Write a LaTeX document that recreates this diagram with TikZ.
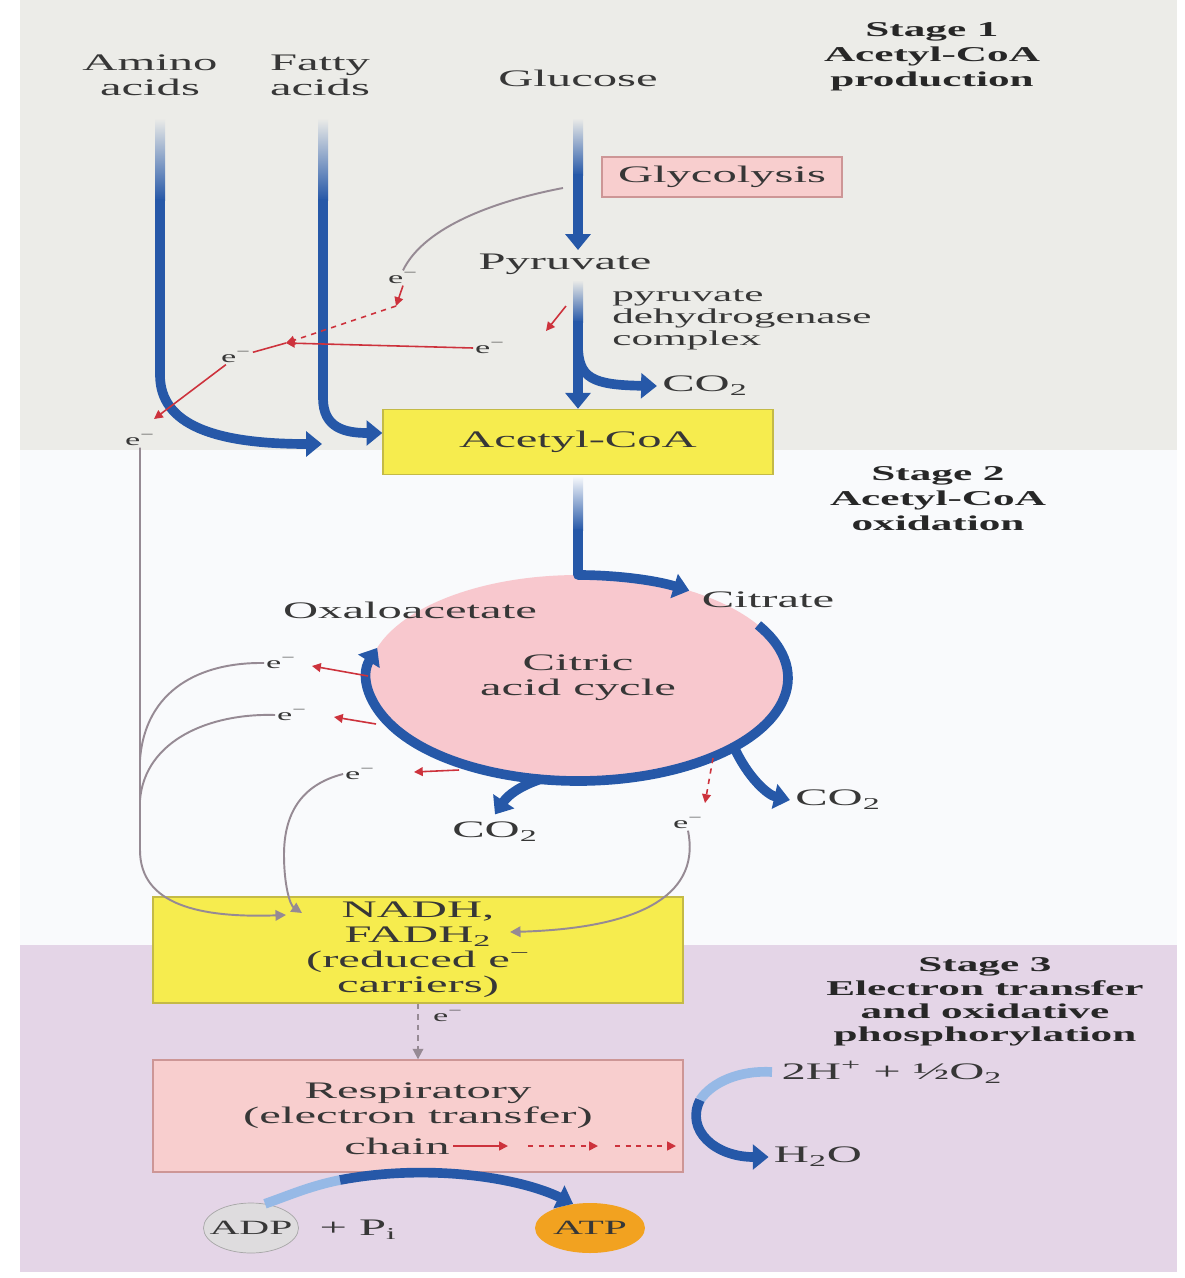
\documentclass[tikz,border=0pt]{standalone}
\usepackage{fontspec}
\setmainfont{Liberation Serif}[FakeStretch=2.05]
\usetikzlibrary{arrows.meta,calc,shapes.geometric}
\definecolor{bgtop}{RGB}{236,236,232}
\definecolor{bgmid}{RGB}{249,250,252}
\definecolor{bgbot}{RGB}{228,213,231}
\definecolor{bluec}{RGB}{38,88,168}
\definecolor{bluel}{RGB}{150,185,230}
\definecolor{redc}{RGB}{205,50,60}
\definecolor{grayl}{RGB}{150,138,148}
\definecolor{yel}{RGB}{246,236,78}
\definecolor{yeld}{RGB}{196,186,70}
\definecolor{pinkbox}{RGB}{248,206,206}
\definecolor{pinkd}{RGB}{205,150,150}
\definecolor{cyc}{RGB}{248,200,206}
\definecolor{txt}{RGB}{55,55,55}
\definecolor{orng}{RGB}{242,162,32}
\definecolor{adpc}{RGB}{222,220,222}
\newcommand\fRg{\fontsize{13.5}{14.2}\selectfont}
\newcommand\fSm{\fontsize{12}{12.5}\selectfont}
\newcommand\fSt{\fontsize{12}{14.2}\selectfont\bfseries}
\newcommand\fEl{\fontsize{9.5}{10}\selectfont}
\newcommand\elec{e\textsuperscript{−}}
\begin{document}
\begin{tikzpicture}[x=0.02cm,y=-0.02cm,
  lab/.style={font=\fRg, text=txt, align=center, inner sep=0pt},
  stage/.style={font=\fSt, text=txt!70!black, align=center, inner sep=0pt},
  el/.style={font=\fEl, text=txt, inner sep=1pt},
  bluearrow/.style={draw=bluec, line width=5.5pt, line join=round, -{Triangle[length=9pt,width=14pt]}},
  blueline/.style={draw=bluec, line width=5.5pt, line join=round},
  redarrow/.style={draw=redc, line width=0.9pt, -{Triangle[length=5pt,width=5pt]}},
  redline/.style={draw=redc, line width=0.9pt},
  grayarrow/.style={draw=grayl, line width=1.1pt, -{Triangle[length=6pt,width=6pt]}},
  grayline/.style={draw=grayl, line width=1.1pt},
  ybox/.style={draw=yeld, fill=yel, line width=0.8pt, font=\fRg, text=txt, align=center, inner sep=0pt},
  pbox/.style={draw=pinkd, fill=pinkbox, line width=0.8pt, font=\fRg, text=txt, align=center, inner sep=0pt}]
\useasboundingbox (0,0) rectangle (1184,1278);
\fill[white] (0,0) rectangle (1184,1278);
\fill[bgtop] (20,0) rectangle (1177,450);
\fill[bgmid] (20,450) rectangle (1177,945);
\fill[bgbot] (20,945) rectangle (1177,1272);

% ---------- boxes drawn first so that arrows show over them ----------
\node[ybox, minimum width=7.8cm, minimum height=1.3cm] (acoa) at (578,442) {Acetyl-CoA};
\node[ybox, minimum width=10.6cm, minimum height=2.12cm] (nadh) at (418,950) {NADH,\\FADH\textsubscript{2}\\(reduced \elec\\carriers)};
\node[pbox, minimum width=10.6cm, minimum height=2.24cm] (resp) at (418,1116) {};

% ---------- Stage 1 ----------
\node[lab] (amino) at (150,75) {Amino\\acids};
\node[lab] (fatty) at (320,75) {Fatty\\acids};
\node[lab] (glucose) at (578,78) {Glucose};
\node[stage] (st1) at (932,57) {Stage 1\\Acetyl-CoA\\production};
\node[pbox, minimum width=4.8cm, minimum height=0.8cm] (glyco) at (722,177) {Glycolysis};
\node[lab] (pyr) at (565,264) {Pyruvate};
\node[font=\fSm, text=txt, align=left, inner sep=0pt, anchor=west] (pdh) at (612,320) {pyruvate\\dehydrogenase\\complex};
\node[lab] (co2a) at (705,386) {CO\textsubscript{2}};

\shade[top color=bgtop, bottom color=bluec] (155,118) rectangle (165,200);
\draw[bluearrow] (160,199) -- (160,375) .. controls (160,425) and (215,444) .. (322,444);
\shade[top color=bgtop, bottom color=bluec] (318,118) rectangle (328,200);
\draw[bluearrow] (323,199) -- (323,398) .. controls (323,428) and (345,433) .. ([yshift=0.18cm]acoa.west);
\shade[top color=bgtop, bottom color=bluec] (573,118) rectangle (583,175);
\draw[bluearrow] (578,174) -- (578,250);
\shade[top color=bgtop, bottom color=bluec] (573,280) rectangle (583,322);
\draw[bluearrow] (578,321) -- (acoa.north);
\draw[bluearrow] (578,345) .. controls (578,378) and (592,385) .. ([xshift=-0.1cm]co2a.west);

\node[el] (e1) at (403,278) {\elec};
\node[el] (e2) at (490,348) {\elec};
\node[el] (e3) at (236,357) {\elec};
\node[el] (e4) at (140,440) {\elec};
\coordinate (j1) at (286,343);
\draw[grayline] (563,188) .. controls (500,200) and (425,225) .. (e1.north);
\draw[redarrow] (e1.south) -- (396,306);
\draw[redarrow, dashed] (396,306) -- (j1);
\draw[redarrow] (566,306) -- (546,331);
\draw[redarrow] (e2.west) -- (j1);
\draw[redline] (j1) -- (e3);
\draw[redarrow] (e3) -- (154,419);
\draw[grayarrow] (e4.south) -- (140,850) .. controls (140,905) and (200,918) .. (286,915);

% ---------- Stage 2 ----------
\node[stage] (st2) at (938,499) {Stage 2\\Acetyl-CoA\\oxidation};
\node[ellipse, fill=cyc, minimum width=8.4cm, minimum height=4.12cm, inner sep=0pt, font=\fRg, text=txt, align=center] (tca) at (578,678) {Citric\\acid cycle};
\node[lab] (oxa) at (410,610) {Oxaloacetate};
\node[lab] (cit) at (768,600) {Citrate};
\node[lab] (co2b) at (495,832) {CO\textsubscript{2}};
\node[lab] (co2c) at (838,800) {CO\textsubscript{2}};

\shade[top color=bgmid, bottom color=bluec] (573,476) rectangle (583,530);
\draw[bluearrow] (578,529) -- (578,575) arc[start angle=90, end angle=58, x radius=4.2cm, y radius=2.06cm];
\draw[bluearrow] ($(tca.center)+(31:4.2cm and 2.06cm)$) arc[start angle=31, end angle=-197, x radius=4.2cm, y radius=2.06cm];
\draw[bluearrow] (734,747) .. controls (748,778) and (768,795) .. ([xshift=-0.1cm]co2c.west);
\draw[bluearrow] (541,779) .. controls (520,786) and (508,795) .. ([yshift=0.15cm]co2b.north);

\node[el] (f1) at (281,663) {\elec};
\node[el] (f2) at (292,715) {\elec};
\node[el] (f3) at (360,774) {\elec};
\node[el] (f4) at (688,823) {\elec};
\draw[redarrow] (368,676) -- (312,666);
\draw[grayline] (f1.west) .. controls (200,662) and (145,690) .. (140,760);
\draw[redarrow] (376,724) -- (334,717);
\draw[grayline] (f2.west) .. controls (210,713) and (145,740) .. (140,800);
\draw[redarrow] (459,770) -- (414,772);
\draw[grayarrow] (f3.west) .. controls (300,785) and (284,815) .. (284,855) .. controls (284,885) and (290,905) .. (302,913);
\draw[redarrow, dashed] (713,758) -- (705,803);
\draw[grayarrow] (f4.south) .. controls (700,890) and (650,928) .. (510,932);

% ---------- Stage 3 ----------
\node[stage, font=\fontsize{12}{13.2}\selectfont\bfseries] (st3) at (985,1002) {Stage 3\\Electron transfer\\and oxidative\\phosphorylation};
\node[lab] (hplus) at (892,1072) {2H\textsuperscript{+} + ½O\textsubscript{2}};
\node[lab] (resptxt) at (418,1106) {Respiratory\\(electron transfer)};
\node[lab] (chain) at (397,1146) {chain};
\node[el] (e5) at (448,1016) {\elec};
\node[lab] (h2o) at (818,1157) {H\textsubscript{2}O};
\node[ellipse, draw=gray!70, fill=adpc, minimum width=1.9cm, minimum height=1cm, inner sep=0pt] (adp) at (251,1228) {};
\node[font=\fontsize{11.5}{12}\selectfont, text=txt, inner sep=0pt] (adptxt) at (adp) {ADP};
\node[lab] (pi) at (358,1230) {+ P\textsubscript{i}};
\node[ellipse, fill=orng, minimum width=2.2cm, minimum height=1cm, inner sep=0pt] (atp) at (590,1228) {};
\node[font=\fontsize{11.5}{12}\selectfont, text=txt, inner sep=0pt] (atptxt) at (atp) {ATP};

\draw[grayarrow, dashed] (nadh.south) -- (resp.north);
\draw[redarrow] (chain.east) ++(0.06cm,0) -- (508,1146);
\draw[redarrow, dashed] (528,1146) -- (598,1146);
\draw[redarrow, dashed] (615,1146) -- (676,1146);

\draw[blueline, draw=bluel] (772,1072) .. controls (740,1070) and (712,1082) .. (700,1100);
\draw[bluearrow] (700,1100) .. controls (685,1130) and (715,1157) .. ([xshift=-0.1cm]h2o.west);

\draw[blueline, draw=bluel] (adp.60) .. controls (290,1195) and (310,1186) .. (340,1180);
\draw[bluearrow] (340,1180) .. controls (430,1163) and (520,1178) .. (atp.125);
\end{tikzpicture}
\end{document}
